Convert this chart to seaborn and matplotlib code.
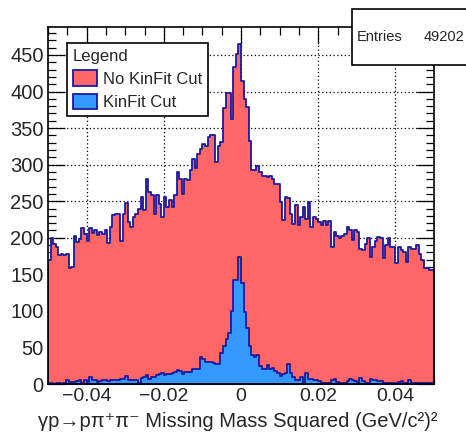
#!/usr/bin/env python
# -*- coding: utf-8 -*-

import matplotlib
matplotlib.use("Agg")
import matplotlib.pyplot as plt
import numpy as np
import pandas as pd
import seaborn as sns
from matplotlib.patches import Patch, Rectangle
from matplotlib.ticker import MultipleLocator, FuncFormatter

# -------------------------------------------------------- #
# bin contents (150 bins, -0.05 .. 0.05)

x_range = (-0.05, 0.05)

no_kinfit = [
    170, 200, 192, 188, 176, 178, 176, 178, 158, 160,
    203, 194, 198, 213, 205, 196, 214, 206, 210, 204,
    208, 205, 210, 193, 215, 231, 233, 232, 196, 233,
    248, 222, 215, 229, 232, 240, 256, 238, 281, 262,
    258, 233, 258, 246, 229, 256, 242, 251, 242, 258,
    290, 281, 260, 281, 279, 292, 308, 295, 315, 322,
    328, 326, 338, 341, 341, 304, 325, 331, 377, 398,
    398, 363, 434, 452, 465, 415, 390, 379, 333, 292,
    292, 298, 290, 285, 285, 283, 285, 280, 274, 274,
    249, 224, 256, 254, 233, 219, 245, 217, 229, 242,
    226, 249, 215, 229, 226, 222, 217, 223, 217, 223,
    188, 208, 203, 200, 202, 205, 215, 210, 197, 211,
    208, 185, 183, 192, 199, 174, 188, 195, 201, 199,
    172, 190, 199, 188, 188, 165, 188, 183, 180, 167,
    188, 185, 185, 190, 178, 169, 158, 158, 156, 156,
]

kinfit = [
    1, 1, 0, 1, 1, 0, 1, 6, 2, 3,
    3, 4, 5, 2, 6, 3, 9, 5, 5, 3,
    4, 5, 6, 4, 5, 5, 6, 5, 7, 7,
    11, 6, 6, 5, 5, 2, 8, 10, 12, 7,
    9, 10, 12, 13, 15, 12, 13, 14, 15, 16,
    19, 18, 13, 16, 17, 17, 20, 21, 21, 37,
    34, 30, 30, 30, 29, 28, 28, 43, 52, 62,
    70, 100, 142, 142, 174, 138, 99, 76, 52, 40,
    37, 40, 24, 21, 21, 26, 20, 22, 18, 15,
    11, 13, 15, 27, 15, 10, 6, 5, 9, 1,
    15, 7, 7, 5, 5, 4, 2, 1, 1, 2,
    5, 7, 3, 2, 1, 1, 4, 7, 6, 4,
    1, 8, 4, 1, 1, 7, 6, 5, 4, 4,
    1, 2, 2, 1, 1, 2, 3, 4, 2, 1,
    6, 2, 1, 1, 1, 1, 2, 2, 2, 1,
]

labels = ["No KinFit Cut", "KinFit Cut"]
entries = 49202
xtitle = "γp→pπ⁺π⁻ Missing Mass Squared (GeV/c²)²"

# -------------------------------------------------------- #

red = "#ff6666"
blue = "#3399ff"
navy = "#1a1aa0"

sns.set_style("ticks")
plt.rcParams["font.family"] = ["Liberation Sans", "DejaVu Sans"]

nbins = len(no_kinfit)
edges = np.linspace(x_range[0], x_range[1], nbins + 1)
df = pd.DataFrame({"mm2": 0.5 * (edges[:-1] + edges[1:]),
                   "no_kinfit": no_kinfit, "kinfit": kinfit})

fig = plt.figure(figsize=(4.66, 4.32), dpi=100)
ax = fig.add_axes([48 / 466, 48 / 432, 386 / 466, 357 / 432])

sns.histplot(data=df, x="mm2", weights="no_kinfit", bins=nbins, binrange=x_range,
             element="step", fill=True, color=red, edgecolor=navy, linewidth=1.3,
             alpha=1, ax=ax, zorder=1)
sns.histplot(data=df, x="mm2", weights="kinfit", bins=nbins, binrange=x_range,
             element="step", fill=True, color=blue, edgecolor=navy, linewidth=1.3,
             alpha=1, ax=ax, zorder=1)

ax.set_xlim(*x_range)
ax.set_ylim(0, 1.05 * max(no_kinfit))
ax.set_xlabel("")
ax.set_ylabel("")

ax.xaxis.set_major_locator(MultipleLocator(0.02))
ax.xaxis.set_minor_locator(MultipleLocator(0.005))
ax.yaxis.set_major_locator(MultipleLocator(50))
ax.yaxis.set_minor_locator(MultipleLocator(10))
ax.xaxis.set_major_formatter(FuncFormatter(
    lambda v, p: "0" if abs(v) < 1e-9 else f"{v:g}".replace("-", "\u2212")))

ax.tick_params(which="both", direction="in", top=True, right=True, width=0.9, color="black")
ax.tick_params(which="major", length=12, labelsize=14.5, pad=3)
ax.tick_params(axis="x", which="major", labelsize=14, pad=3)
ax.tick_params(which="minor", length=6)
for s in ax.spines.values():
    s.set_linewidth(1.2)
    s.set_color("black")

# dotted grid behind the histograms
ax.grid(False)
for v in ax.get_xticks():
    if x_range[0] < v < x_range[1]:
        ax.axvline(v, color="black", linestyle=(0, (1, 2)), linewidth=0.9, zorder=0)
for v in ax.get_yticks():
    if 0 < v < 1.05 * max(no_kinfit):
        ax.axhline(v, color="black", linestyle=(0, (1, 2)), linewidth=0.9, zorder=0)

handles = [Patch(facecolor=red, edgecolor=navy, linewidth=1.3, label=labels[0]),
           Patch(facecolor=blue, edgecolor=navy, linewidth=1.3, label=labels[1])]
leg = ax.legend(handles=handles, title="Legend", loc="upper left",
                bbox_to_anchor=(19 / 386, 341 / 357), borderaxespad=0,
                fontsize=12, title_fontsize=12, frameon=True, fancybox=False,
                alignment="left", handlelength=1.45, handleheight=1.05,
                handletextpad=0.35, borderpad=0.35, labelspacing=0.4, framealpha=1)
leg.get_frame().set_edgecolor("black")
leg.get_frame().set_linewidth(1.2)

# stats box in the top right corner
fig.add_artist(Rectangle((352 / 466, (432 - 65) / 432), 0.3, 56 / 432,
                         transform=fig.transFigure, facecolor="white",
                         edgecolor="black", linewidth=1.2, zorder=5))
fig.text(357 / 466, (432 - 37) / 432, "Entries", ha="left", va="center",
         fontsize=10.5, zorder=6)
fig.text(464 / 466, (432 - 37) / 432, f"{entries}", ha="right", va="center",
         fontsize=10.5, zorder=6)

fig.text(238 / 466, (432 - 427) / 432, xtitle, ha="center", va="baseline", fontsize=14.5)

# -------------------------------------------------------- #
fig.savefig("out.png", dpi=100)
